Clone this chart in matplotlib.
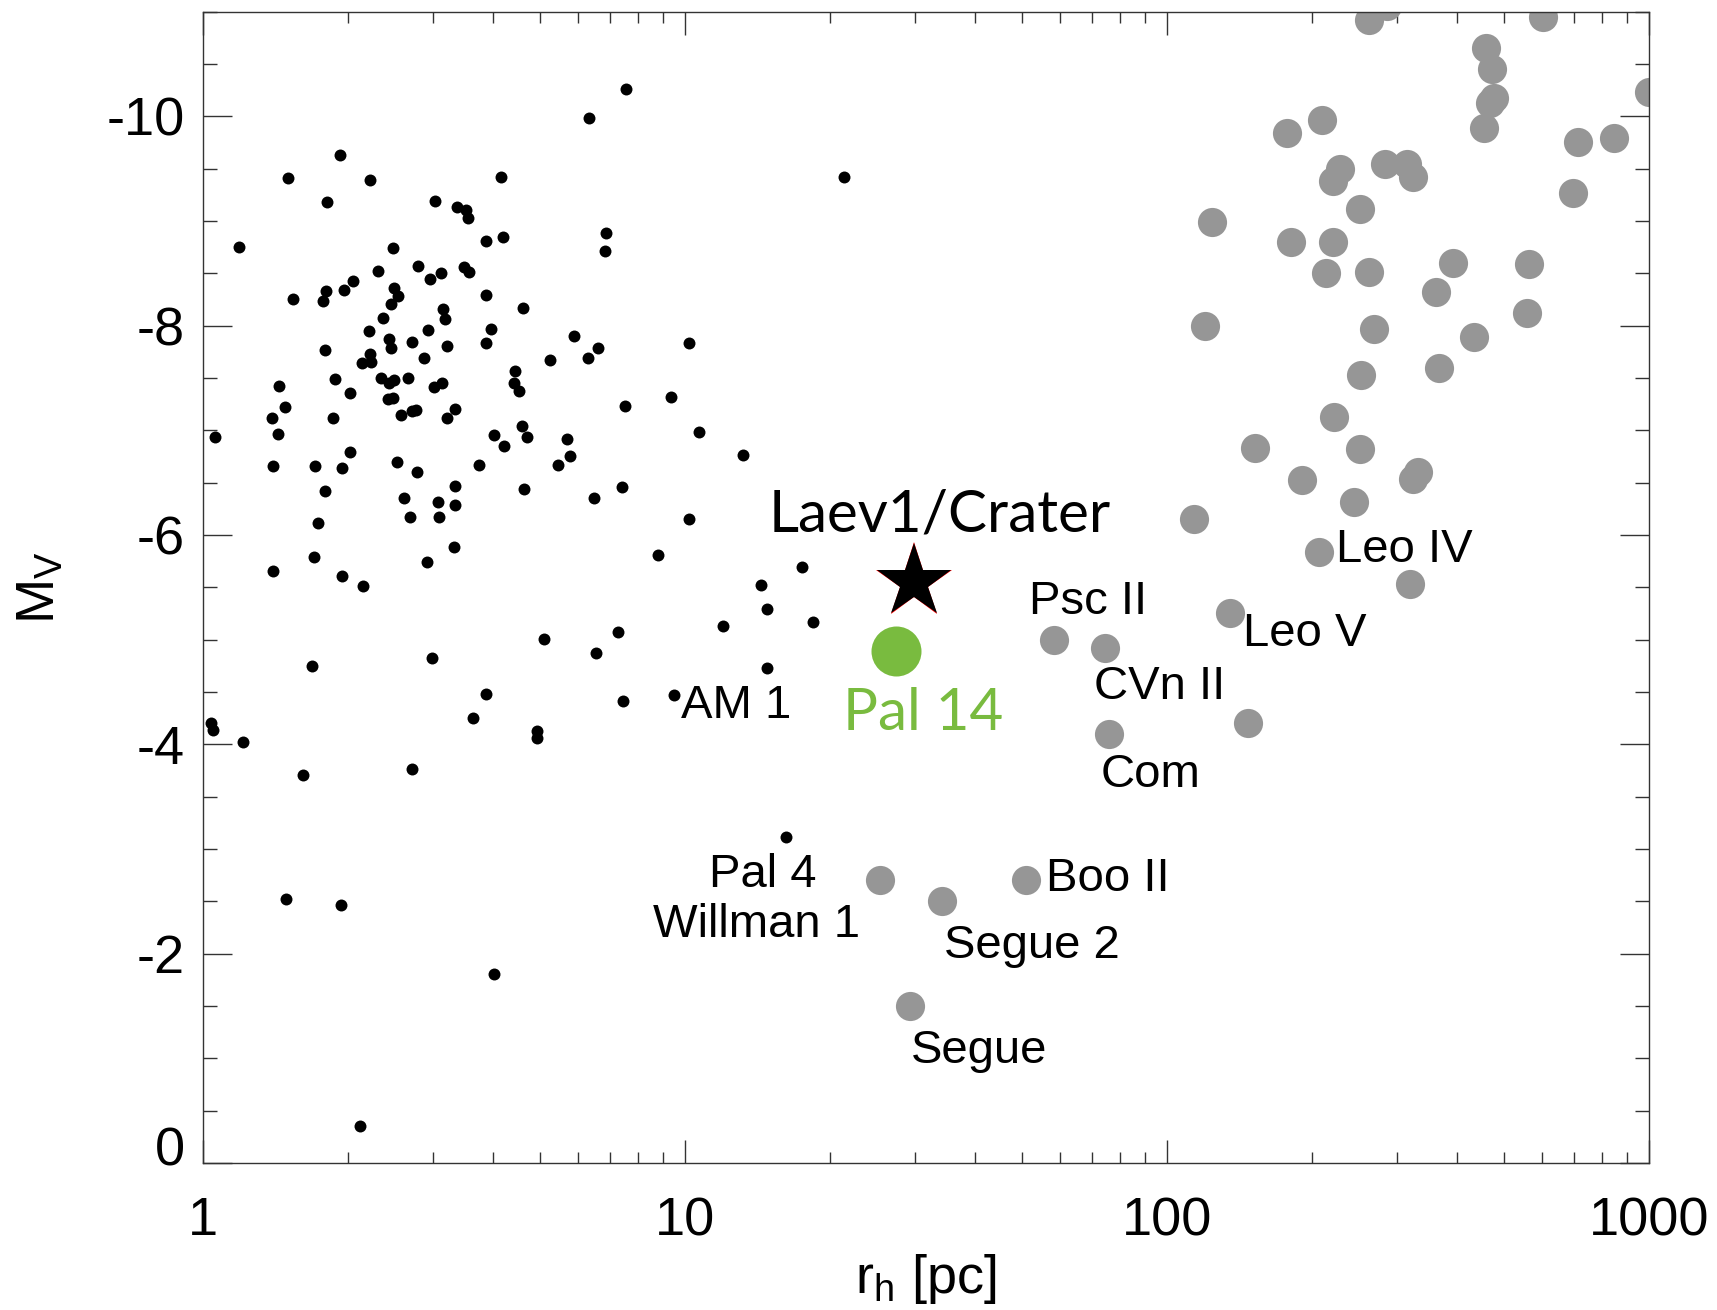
import numpy as np
import matplotlib
matplotlib.use("Agg")
import matplotlib.pyplot as plt
from matplotlib.ticker import FixedLocator, MultipleLocator, LogLocator, NullFormatter
from matplotlib.transforms import ScaledTranslation

plt.rcParams['font.family'] = ['Liberation Sans', 'DejaVu Sans']
plt.rcParams['mathtext.fontset'] = 'custom'
plt.rcParams['mathtext.rm'] = 'Liberation Sans'
plt.rcParams['mathtext.it'] = 'Liberation Sans'

# globular clusters (small black dots): half-light radius [pc], M_V
gc_rh = [1.92, 1.50, 2.22, 4.15, 1.81, 3.03, 3.37, 3.51, 3.55, 1.19,
         2.48, 3.86, 4.19, 2.31, 2.79, 3.12, 2.96, 3.48, 3.56, 2.05,
         1.80, 1.96, 1.54, 1.77, 2.49, 2.54, 2.45, 3.86, 4.62, 3.15,
         3.18, 2.36, 2.21, 2.93, 3.95, 2.43, 2.45, 2.72, 3.21, 3.87,
         1.79, 2.22, 2.23, 2.14, 2.87, 5.25, 4.44, 4.41, 4.52, 1.88,
         2.34, 2.49, 2.43, 2.66, 1.44, 2.02, 3.01, 3.13, 2.42, 2.48,
         1.48, 2.76, 2.72, 3.34, 1.39, 1.86, 2.58, 3.21,
         1.06, 1.43, 4.02, 4.59, 4.69, 4.21, 2.02, 1.40, 1.71, 1.94,
         2.53, 2.78, 3.73, 5.46, 3.33, 4.63, 1.79, 2.61, 3.07, 3.34,
         2.69, 3.09, 1.73, 3.32, 1.70, 2.91, 1.40, 1.94, 2.15, 5.10,
         2.98, 1.68, 3.86, 3.64, 1.04, 1.05, 1.21, 4.94, 4.94,
         1.61, 2.72, 1.49, 1.93, 4.02, 2.12,
         7.55, 6.31, 21.4, 6.85, 6.81, 5.89, 6.59, 6.30, 10.2, 9.35, 7.50,
         5.69, 5.77, 10.7, 13.2, 7.39, 6.47, 10.2, 8.79, 17.5, 14.4,
         14.8, 18.4, 12.0, 7.26, 6.54, 14.8, 7.44, 9.50, 16.2]
gc_mv = [-9.63, -9.41, -9.39, -9.42, -9.18, -9.19, -9.13, -9.10, -9.03, -8.75,
         -8.74, -8.81, -8.85, -8.52, -8.57, -8.50, -8.44, -8.56, -8.51, -8.43,
         -8.33, -8.34, -8.25, -8.23, -8.36, -8.28, -8.21, -8.29, -8.17, -8.16,
         -8.06, -8.07, -7.95, -7.96, -7.97, -7.87, -7.79, -7.84, -7.80, -7.83,
         -7.77, -7.73, -7.65, -7.64, -7.69, -7.67, -7.57, -7.45, -7.37, -7.49,
         -7.50, -7.48, -7.45, -7.50, -7.42, -7.36, -7.41, -7.45, -7.30, -7.31,
         -7.22, -7.19, -7.18, -7.20, -7.12, -7.12, -7.15, -7.12,
         -6.94, -6.96, -6.95, -7.04, -6.94, -6.85, -6.79, -6.66, -6.66, -6.64,
         -6.70, -6.60, -6.67, -6.67, -6.47, -6.44, -6.42, -6.35, -6.31, -6.29,
         -6.17, -6.17, -6.11, -5.88, -5.79, -5.74, -5.66, -5.61, -5.51, -5.01,
         -4.82, -4.75, -4.48, -4.25, -4.20, -4.14, -4.02, -4.13, -4.06,
         -3.71, -3.76, -2.52, -2.46, -1.81, -0.35,
         -10.26, -9.98, -9.42, -8.88, -8.71, -7.90, -7.79, -7.69, -7.83, -7.32, -7.23,
         -6.92, -6.75, -6.98, -6.76, -6.46, -6.35, -6.15, -5.81, -5.69, -5.52,
         -5.29, -5.17, -5.13, -5.07, -4.87, -4.73, -4.41, -4.47, -3.11]

# dwarf galaxies (large grey dots)
dw_rh = [263, 286, 602, 459, 472, 478, 468, 455, 1000, 210,
         177, 712, 845, 229, 221, 284, 315, 324, 696, 251,
         124, 181, 221, 214, 263, 393, 565, 362, 557, 120,
         269, 434, 367, 253, 222,
         152, 252, 191, 331, 324, 244, 114, 207, 319, 135, 147,
         58.2, 74.3, 75.9, 25.4, 34.2, 51.0, 29.3]
dw_mv = [-10.92, -11.05, -10.95, -10.65, -10.45, -10.17, -10.13, -9.89, -10.23, -9.96,
         -9.84, -9.75, -9.79, -9.50, -9.38, -9.54, -9.54, -9.42, -9.27, -9.11,
         -8.99, -8.80, -8.80, -8.50, -8.51, -8.60, -8.59, -8.32, -8.12, -8.00,
         -7.97, -7.89, -7.59, -7.53, -7.13,
         -6.83, -6.82, -6.52, -6.60, -6.53, -6.31, -6.15, -5.84, -5.53, -5.25, -4.20,
         -5.00, -4.92, -4.10, -2.70, -2.50, -2.70, -1.50]

pal14_rh, pal14_mv = 27.4, -4.89
laev_rh, laev_mv = 29.9, -5.55

# object labels: text, r_h, M_V (baseline)
lab_text = ['AM 1', 'Psc II', 'CVn II', 'Com', 'Leo V', 'Leo IV',
            'Pal 4', 'Willman 1', 'Segue 2', 'Boo II', 'Segue']
lab_x = [9.8, 51.7, 70.6, 72.8, 144, 224, 14.5, 14.1, 34.4, 56.1, 29.4]
lab_y = [-4.25, -5.24, -4.43, -3.59, -4.94, -5.74, -2.64, -2.16, -1.96, -2.60, -0.96]
lab_ha = ['left', 'left', 'left', 'left', 'left', 'left',
          'center', 'center', 'left', 'left', 'left']

fig = plt.figure(figsize=(17.17, 13.10), dpi=100)
ax = fig.add_axes([203/1717, 1 - 1163/1310, 1446/1717, 1151.5/1310])

ax.plot(gc_rh, gc_mv, 'o', color='black', markersize=8.6, markeredgewidth=0, zorder=3)
ax.plot(dw_rh, dw_mv, 'o', color='#969696', markersize=21, markeredgewidth=0, zorder=2)
ax.plot(pal14_rh, pal14_mv, 'o', color='#79bb3f', markersize=36, markeredgewidth=0, zorder=4)
ax.plot(laev_rh, laev_mv, '*', color='red', markersize=57, markeredgewidth=0, zorder=4)
ax.plot(laev_rh, laev_mv, '*', color='black', markersize=56, markeredgewidth=0, zorder=5)

for t, x, y, ha in zip(lab_text, lab_x, lab_y, lab_ha):
    ax.text(x, y, t, fontsize=34, ha=ha, va='baseline', zorder=6)

ax.text(14.9, -6.03, 'Laev1/Crater', fontsize=42, family=['Lato', 'DejaVu Sans'],
        ha='left', va='baseline', zorder=6)
ax.text(21.3, -4.14, 'Pal 14', fontsize=42, family=['Lato', 'DejaVu Sans'],
        color='#79bb3f', ha='left', va='baseline', zorder=6)

ax.set_xscale('log')
ax.set_xlim(1, 1000)
ax.set_ylim(0, -11)
ax.xaxis.set_major_locator(FixedLocator([1, 10, 100, 1000]))
ax.xaxis.set_minor_locator(LogLocator(base=10, subs=np.arange(2, 10)))
ax.xaxis.set_minor_formatter(NullFormatter())
ax.set_xticklabels(['1', '10', '100', '1000'])
ax.yaxis.set_major_locator(FixedLocator([-10, -8, -6, -4, -2, 0]))
ax.set_yticklabels(['-10', '-8', '-6', '-4', '-2', '0'])
ax.yaxis.set_minor_locator(MultipleLocator(0.5))

ax.tick_params(which='both', direction='in', top=True, right=True,
               labelsize=39, color='#333333', width=1.0)
ax.tick_params(axis='x', which='major', length=16.3, pad=24)
ax.tick_params(axis='x', which='minor', length=8)
ax.tick_params(axis='y', which='major', length=21, pad=13)
ax.tick_params(axis='y', which='minor', length=10)
for s in ax.spines.values():
    s.set_linewidth(1.0)
    s.set_color('#333333')

# the "0" label sits a little above its tick in the original
zero_lab = ax.get_yticklabels()[-1]
zero_lab.set_transform(zero_lab.get_transform() +
                       ScaledTranslation(0, 12.5 / 72, fig.dpi_scale_trans))

ax.set_xlabel(r'r$_\mathrm{h}$ [pc]', fontsize=39)
ax.set_ylabel(r'M$_\mathrm{V}$', fontsize=39)
ax.xaxis.set_label_coords(0.5, -0.077)
ax.yaxis.set_label_coords(-0.095, 0.5)

fig.savefig('out.png', dpi=100)
